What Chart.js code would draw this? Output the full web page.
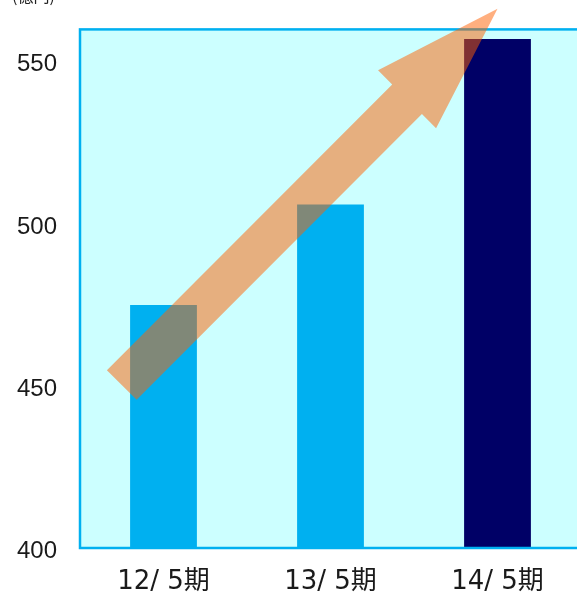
<!DOCTYPE html>
<html>
<head>
<meta charset="utf-8">
<script src="https://cdn.jsdelivr.net/npm/chart.js@4"></script>
<style>
  html, body { margin: 0; padding: 0; background: #fff; overflow: hidden; }
  #wrap { width: 577px; height: 595px; overflow: hidden; }
  #box { width: 584px; height: 595px; }
</style>
</head>
<body>
<div id="wrap"><div id="box"><canvas id="salesChart"></canvas></div></div>
<script>
/* --------- 売上高の推移 (億円) ----------------- */

var periods = ["12/ 5期", "13/ 5期", "14/ 5期"];
var sales = [475, 506, 557];
var barColors = ["#00B0F0", "#00B0F0", "#000066"];
var yTicks = [400, 450, 500, 550];

// growth arrow, in category index / axis value
var arrowFrom = {x: -0.25, y: 450.3};
var arrowTo = {x: 2, y: 566.4};

var fontJa = "'Noto Sans CJK JP', 'Liberation Sans', sans-serif";

var plotFrame = {
  id: "plotFrame",
  beforeDatasetsDraw: function (chart) {
    var a = chart.chartArea, ctx = chart.ctx;
    ctx.save();
    ctx.fillStyle = "#CCFFFF";
    ctx.fillRect(a.left, a.top, a.right - a.left, a.bottom - a.top);
    ctx.restore();
  },
  afterDatasetsDraw: function (chart) {
    var a = chart.chartArea, ctx = chart.ctx;
    ctx.save();
    ctx.strokeStyle = "#00B0F0";
    ctx.lineWidth = 2.5;
    ctx.strokeRect(a.left, a.top, a.right - a.left, a.bottom - a.top);

    // unit label
    ctx.fillStyle = "#222";
    ctx.font = "16px " + fontJa;
    ctx.textBaseline = "bottom";
    ctx.fillText("(億円)", 12, 4);

    // arrow
    var xs = chart.scales.x, ys = chart.scales.y;
    var x0 = xs.getPixelForValue(arrowFrom.x), y0 = ys.getPixelForValue(arrowFrom.y);
    var x1 = xs.getPixelForValue(arrowTo.x), y1 = ys.getPixelForValue(arrowTo.y);
    var len = Math.hypot(x1 - x0, y1 - y0);
    var shaft = 21, head = 41, headLen = 128;
    ctx.translate(x0, y0);
    ctx.rotate(Math.atan2(y1 - y0, x1 - x0));
    ctx.beginPath();
    ctx.moveTo(0, -shaft);
    ctx.lineTo(len - headLen, -shaft);
    ctx.lineTo(len - headLen, -head);
    ctx.lineTo(len, 0);
    ctx.lineTo(len - headLen, head);
    ctx.lineTo(len - headLen, shaft);
    ctx.lineTo(0, shaft);
    ctx.closePath();
    ctx.fillStyle = "rgba(255, 96, 0, 0.5)";
    ctx.fill();
    ctx.restore();
  }
};

new Chart("salesChart", {
  type: "bar",
  data: {
    labels: periods,
    datasets: [{
      data: sales,
      backgroundColor: barColors,
      barPercentage: 0.4,
      categoryPercentage: 1.0
    }]
  },
  options: {
    responsive: true,
    maintainAspectRatio: false,
    animation: false,
    layout: {padding: {top: 23, right: 3, left: 0, bottom: 0}},
    plugins: {
      legend: {display: false},
      tooltip: {enabled: false}
    },
    scales: {
      x: {
        grid: {display: false},
        border: {display: false},
        ticks: {
          color: "#1a1a1a",
          font: {family: "'DejaVu Sans', 'Noto Sans CJK JP', sans-serif", size: 26},
          padding: 11,
          maxRotation: 0
        },
        afterFit: function (scale) { scale.height = 47; }
      },
      y: {
        min: 400,
        max: 560,
        grid: {display: false},
        border: {display: false},
        afterBuildTicks: function (scale) {
          scale.ticks = yTicks.map(function (v) { return {value: v}; });
        },
        ticks: {
          color: "#1a1a1a",
          font: {family: "'Liberation Sans', Arial, sans-serif", size: 24},
          padding: 15,
          labelOffset: 3
        },
        afterFit: function (scale) { scale.width = 80; }
      }
    }
  },
  plugins: [plotFrame]
});
</script>
</body>
</html>
